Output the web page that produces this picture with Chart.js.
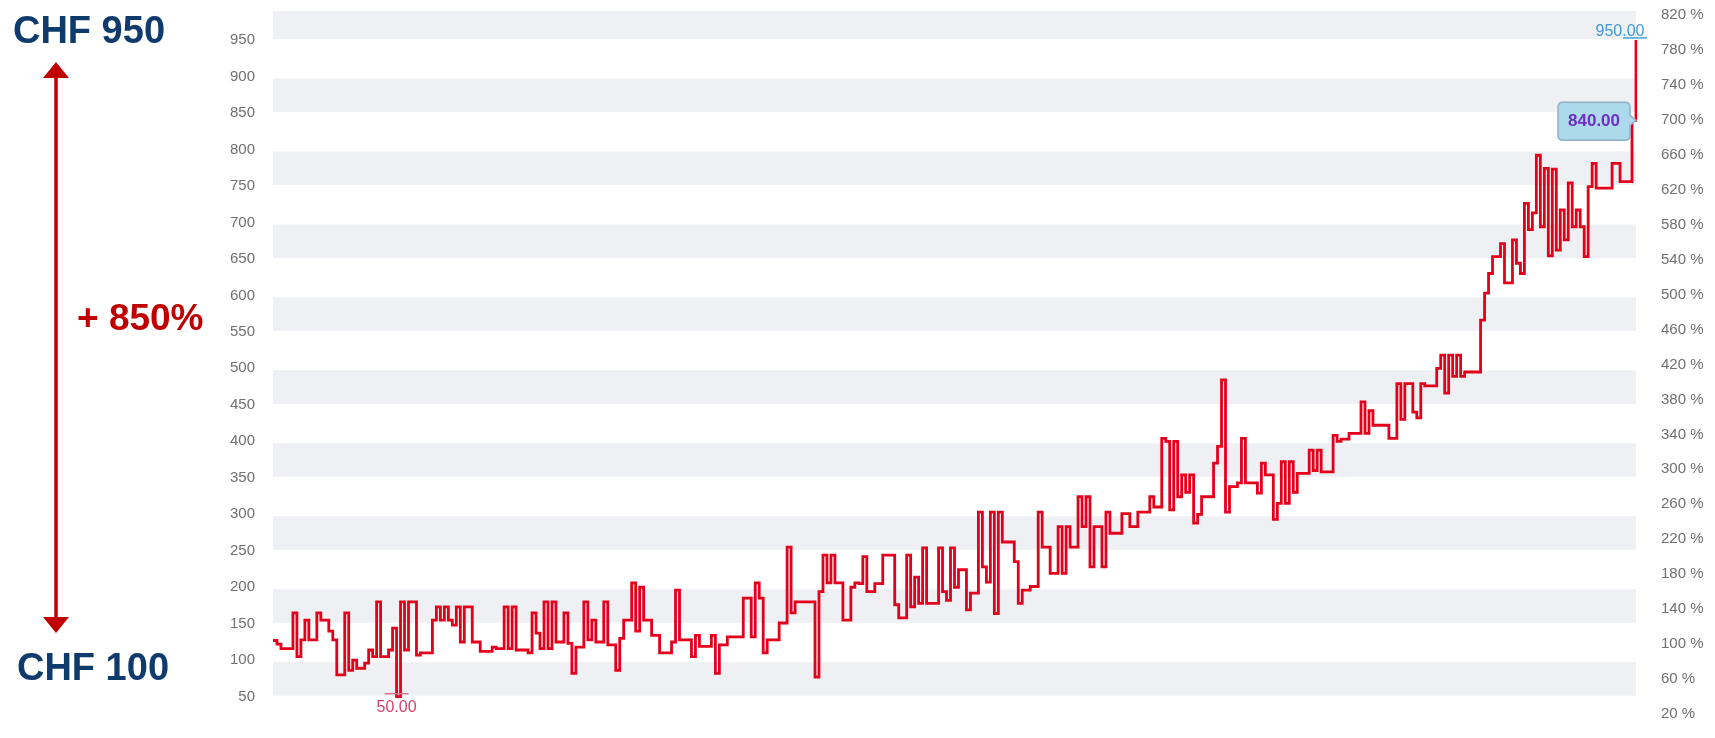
<!DOCTYPE html>
<html><head><meta charset="utf-8">
<script src="https://cdn.jsdelivr.net/npm/chart.js@4.4.1/dist/chart.umd.min.js"></script>
<style>
html,body{margin:0;padding:0;background:#fff;overflow:hidden;}
#wrap{position:relative;width:1715px;height:738px;}
#c{position:absolute;left:0;top:0;}
#ann{position:absolute;left:0;top:0;}
</style></head><body>
<div id="wrap">
<canvas id="c" width="1715" height="738"></canvas>
<svg id="ann" width="260" height="738" xmlns="http://www.w3.org/2000/svg">
  <text x="89" y="43" text-anchor="middle" font-family="Liberation Sans, Arial, sans-serif" font-weight="bold" font-size="38" fill="#0e3a6c">CHF 950</text>
  <text x="93" y="680" text-anchor="middle" font-family="Liberation Sans, Arial, sans-serif" font-weight="bold" font-size="38" fill="#0e3a6c">CHF 100</text>
  <line x1="56" y1="74" x2="56" y2="621" stroke="#c00000" stroke-width="3.5"/>
  <polygon points="56,62 43,78 69,78" fill="#c00000"/>
  <polygon points="56,633 43,617 69,617" fill="#c00000"/>
  <text x="77" y="330" font-family="Liberation Sans, Arial, sans-serif" font-weight="bold" font-size="37" fill="#c00000">+ 850%</text>
</svg>
</div>
<script>
// ---- data ----
const prices = [
127,122,116,116,116,165,105,128,155,128,
128,165,155,155,140,128,80,80,165,86,
100,89,89,96,114,105,180,105,105,114,
144,50,180,114,180,180,107,110,110,110,
155,173,155,173,155,148,173,125,173,173,
125,125,112,112,112,118,116,116,173,116,
173,114,114,114,110,165,137,116,180,116,
180,125,125,165,123,82,118,118,180,128,
155,125,125,180,121,121,86,130,155,155,
206,140,200,155,155,134,134,110,110,110,
125,196,128,128,128,105,134,119,119,119,
134,82,121,121,132,132,132,132,185,185,
132,206,185,110,128,128,128,151,151,255,
165,180,180,180,180,180,77,194,244,206,
244,206,206,155,155,200,206,205,242,194,
194,205,205,244,244,244,176,158,158,244,
173,214,178,254,178,178,178,254,194,182,
254,200,224,224,169,192,192,303,228,207,
303,164,303,262,262,262,235,178,196,196,
201,201,303,255,255,219,219,283,219,283,
255,255,324,283,324,228,283,283,228,303,
274,274,274,301,301,283,283,303,303,303,
324,310,310,404,400,306,400,324,354,330,
354,288,300,324,324,324,370,393,484,303,
338,338,343,404,343,343,343,329,370,354,
354,293,315,372,315,372,330,356,356,356,
388,360,388,358,358,358,408,400,403,403,
411,411,411,454,411,442,422,422,422,422,
404,404,479,430,479,479,440,432,479,476,
476,476,500,518,466,518,489,518,489,495,
495,495,495,566,603,630,653,653,671,617,
617,676,644,630,726,690,713,792,694,774,
654,773,662,717,676,754,694,717,694,653,
749,781,747,747,747,747,781,781,756,756,
756,840,950
];
const leftTicks = [50,100,150,200,250,300,350,400,450,500,550,600,650,700,750,800,850,900,950];
const rightTicks = [20,60,100,140,180,220,260,300,340,380,420,460,500,540,580,620,660,700,740,780,820];
const bandRanges = [[50,100],[150,200],[250,300],[350,400],[450,500],[550,600],[650,700],[750,800],[850,900],[950,1000]];
const calloutValue = 840;
const labels = prices.map((_, i) => i);

// ---- plugins ----
const bandPlugin = {
  id: 'bands',
  beforeDatasetsDraw(chart) {
    const {ctx, chartArea: a, scales: {y}} = chart;
    ctx.save();
    ctx.fillStyle = '#eef0f3';
    bandRanges.forEach(([lo, hi]) => {
      const top = Math.max(a.top, y.getPixelForValue(hi) + 2);
      const bot = y.getPixelForValue(lo) - 1;
      ctx.fillRect(a.left, top, a.right - a.left, bot - top);
    });
    ctx.restore();
  }
};

const annPlugin = {
  id: 'ann',
  afterDatasetsDraw(chart) {
    const {ctx} = chart;
    const meta = chart.getDatasetMeta(0);
    const iMax = prices.indexOf(Math.max(...prices));
    const iMin = prices.indexOf(Math.min(...prices));
    const pMax = meta.data[iMax], pMin = meta.data[iMin];
    ctx.save();
    // max marker
    ctx.strokeStyle = '#4aa3d8'; ctx.lineWidth = 1.5;
    ctx.beginPath(); ctx.moveTo(pMax.x - 13, pMax.y - 2); ctx.lineTo(pMax.x + 11, pMax.y - 2); ctx.stroke();
    ctx.fillStyle = '#3d9bd4'; ctx.font = '16px "Liberation Sans", Arial, sans-serif';
    ctx.textAlign = 'center'; ctx.textBaseline = 'alphabetic';
    ctx.fillText(prices[iMax].toFixed(2), pMax.x - 16, pMax.y - 4);
    // min marker
    ctx.strokeStyle = '#e07090';
    ctx.beginPath(); ctx.moveTo(pMin.x - 12, pMin.y - 3); ctx.lineTo(pMin.x + 12, pMin.y - 3); ctx.stroke();
    ctx.fillStyle = '#d4426a';
    ctx.fillText(prices[iMin].toFixed(2), pMin.x, pMin.y + 15);
    // callout
    const iC = prices.lastIndexOf(calloutValue);
    const p = meta.data[iC];
    const r = p.x - 2, l = r - 72, t = p.y - 18, b = p.y + 20, rad = 5;
    ctx.beginPath();
    ctx.moveTo(l + rad, t);
    ctx.lineTo(r - rad, t); ctx.quadraticCurveTo(r, t, r, t + rad);
    ctx.lineTo(r, p.y - 5); ctx.lineTo(p.x + 4, p.y); ctx.lineTo(r, p.y + 5);
    ctx.lineTo(r, b - rad); ctx.quadraticCurveTo(r, b, r - rad, b);
    ctx.lineTo(l + rad, b); ctx.quadraticCurveTo(l, b, l, b - rad);
    ctx.lineTo(l, t + rad); ctx.quadraticCurveTo(l, t, l + rad, t);
    ctx.closePath();
    ctx.fillStyle = '#acd9ec'; ctx.fill();
    ctx.strokeStyle = '#8eb2c2'; ctx.lineWidth = 1.5; ctx.stroke();
    ctx.fillStyle = '#6f2fc0'; ctx.font = 'bold 17px "Liberation Sans", Arial, sans-serif';
    ctx.textBaseline = 'middle';
    ctx.fillText(calloutValue.toFixed(2), (l + r) / 2, p.y + 1);
    ctx.restore();
  }
};

const tickFont = {family: '"Liberation Sans", Arial, sans-serif', size: 15};

new Chart(document.getElementById('c'), {
  type: 'line',
  data: {
    labels: labels,
    datasets: [{
      data: prices,
      borderColor: '#e2001a',
      borderWidth: 2.8,
      pointRadius: 0,
      stepped: true,
      fill: false,
      yAxisID: 'y'
    }]
  },
  options: {
    responsive: false,
    animation: false,
    layout: {padding: {top: 11, bottom: 24, left: 0, right: 0}},
    plugins: {legend: {display: false}, tooltip: {enabled: false}},
    scales: {
      x: {type: 'category', display: false, offset: false},
      y: {
        position: 'left', min: 26.3, max: 989.7,
        grid: {display: false}, border: {display: false},
        afterBuildTicks: s => { s.ticks = leftTicks.map(v => ({value: v})); },
        afterFit: s => { s.width = 273; s.paddingTop = 0; s.paddingBottom = 0; },
        ticks: {autoSkip: false, padding: 10, color: '#707070', font: tickFont, callback: v => String(v)}
      },
      y2: {
        position: 'right', min: 20, max: 824.6,
        grid: {display: false}, border: {display: false},
        afterBuildTicks: s => { s.ticks = rightTicks.map(v => ({value: v})); },
        afterFit: s => { s.width = 79; s.paddingTop = 0; s.paddingBottom = 0; },
        ticks: {autoSkip: false, padding: 17, color: '#707070', font: tickFont, callback: v => v + ' %'}
      }
    }
  },
  plugins: [bandPlugin, annPlugin]
});
</script>
</body></html>
